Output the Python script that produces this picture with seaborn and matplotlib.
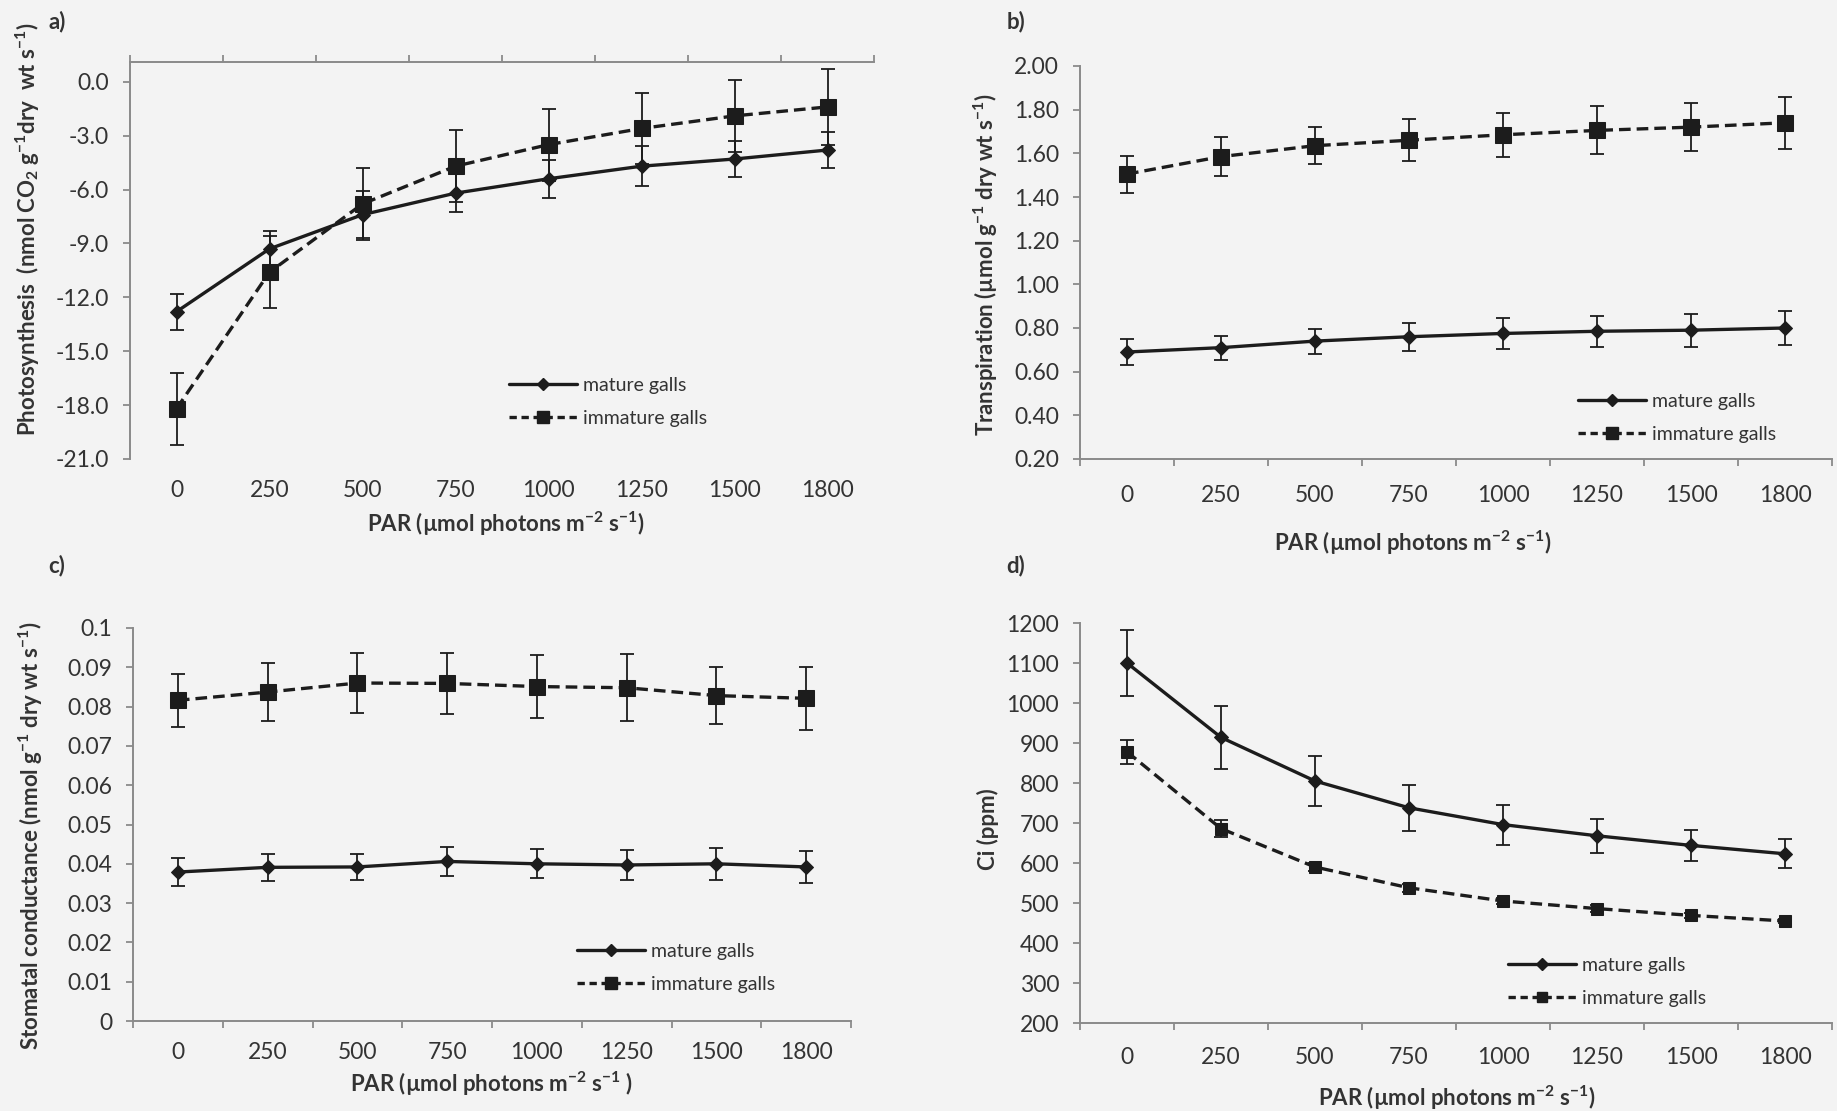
import numpy as np
import pandas as pd
import matplotlib
matplotlib.use("Agg")
import matplotlib.pyplot as plt
from matplotlib.lines import Line2D
import seaborn as sns

# x categories (PAR levels)
par_labels = ["0", "250", "500", "750", "1000", "1250", "1500", "1800"]

# a) photosynthesis
photo_mature = [-12.8, -9.3, -7.4, -6.2, -5.4, -4.7, -4.3, -3.8]
photo_mature_err = [1.0, 1.0, 1.3, 1.05, 1.05, 1.1, 1.0, 1.0]
photo_immature = [-18.2, -10.6, -6.8, -4.7, -3.5, -2.6, -1.9, -1.4]
photo_immature_err = [2.0, 2.0, 2.0, 2.0, 2.0, 2.0, 2.0, 2.1]

# b) transpiration
trans_mature = [0.69, 0.71, 0.74, 0.76, 0.775, 0.785, 0.79, 0.80]
trans_mature_err = [0.06, 0.055, 0.057, 0.065, 0.07, 0.07, 0.075, 0.08]
trans_immature = [1.505, 1.585, 1.635, 1.66, 1.685, 1.705, 1.72, 1.74]
trans_immature_err = [0.085, 0.09, 0.085, 0.095, 0.1, 0.11, 0.11, 0.12]

# c) stomatal conductance
cond_mature = [0.0379, 0.0391, 0.0392, 0.0406, 0.0400, 0.0397, 0.0400, 0.0392]
cond_mature_err = [0.0035, 0.0035, 0.0034, 0.0037, 0.0037, 0.0038, 0.004, 0.004]
cond_immature = [0.0816, 0.0837, 0.0860, 0.0859, 0.0851, 0.0848, 0.0828, 0.0821]
cond_immature_err = [0.0067, 0.0073, 0.0077, 0.0077, 0.008, 0.0085, 0.0073, 0.008]

# d) Ci
ci_mature = [1100, 914, 805, 738, 696, 668, 644, 623]
ci_mature_err = [83, 78, 63, 57, 50, 42, 39, 36]
ci_immature = [878, 686, 590, 538, 505, 486, 469, 455]
ci_immature_err = [30, 22, 10, 10, 8, 8, 6, 6]

W, H = 1837, 1111
BG = "#f3f3f3"
INK = "#1c1c1c"
SPINE = "#8a8a8a"
TXT = "#333333"

sns.set_theme(style="white")
plt.rcParams["font.family"] = ["Lato", "DejaVu Sans"]
plt.rcParams["mathtext.default"] = "regular"

fig = plt.figure(figsize=(W / 100, H / 100), dpi=100, facecolor=BG)


def px_axes(left, right, top, bottom):
    return fig.add_axes([left / W, 1 - bottom / H, (right - left) / W, (bottom - top) / H])


def draw_panel(ax, mature, mature_err, immature, immature_err, yticks, ylabels,
               ylim, top_axis=False, xpad=17, sq_size=10):
    pos = np.arange(len(par_labels))
    df_m = pd.DataFrame({"pos": pos, "value": mature})
    df_i = pd.DataFrame({"pos": pos, "value": immature})
    ax.errorbar(pos, mature, yerr=mature_err, fmt="none", ecolor=INK,
                elinewidth=1.3, capsize=5, capthick=1.3, zorder=2)
    ax.errorbar(pos, immature, yerr=immature_err, fmt="none", ecolor=INK,
                elinewidth=1.3, capsize=5, capthick=1.3, zorder=2)
    sns.lineplot(data=df_m, x="pos", y="value", ax=ax, color=INK, lw=2.4,
                 marker="D", markersize=7.5, markeredgecolor=INK, zorder=3)
    sns.lineplot(data=df_i, x="pos", y="value", ax=ax, color=INK, lw=2.4,
                 linestyle=(0, (3.5, 1.8)), marker="s", markersize=sq_size,
                 markeredgecolor=INK, zorder=3)
    ax.set_facecolor(BG)
    ax.set_xlim(-0.5, len(par_labels) - 0.5)
    ax.set_ylim(*ylim)
    ax.set_xlabel("")
    ax.set_ylabel("")
    ax.set_xticks(pos)
    ax.set_xticklabels(par_labels)
    ax.set_xticks(np.arange(len(par_labels) + 1) - 0.5, minor=True)
    ax.set_yticks(yticks)
    ax.set_yticklabels(ylabels)
    for s in ax.spines.values():
        s.set_visible(False)
    ax.spines["left"].set_visible(True)
    ax.spines["left"].set_color(SPINE)
    ax.spines["left"].set_linewidth(1.4)
    edge = "top" if top_axis else "bottom"
    ax.spines[edge].set_visible(True)
    ax.spines[edge].set_color(SPINE)
    ax.spines[edge].set_linewidth(1.4)
    ax.tick_params(axis="x", which="major", length=0, pad=xpad,
                   labelsize=16.5, labelcolor=TXT, bottom=False, top=False,
                   labelbottom=True)
    ax.tick_params(axis="x", which="minor", length=5, width=1.3, color=SPINE,
                   direction="out", bottom=not top_axis, top=top_axis,
                   labelbottom=False, labeltop=False)
    ax.tick_params(axis="y", which="major", length=5, width=1.3, color=SPINE,
                   direction="out", left=True, pad=10, labelsize=16.5,
                   labelcolor=TXT)
    ax.grid(False)


def add_legend(x, y_mid, sq_size=10):
    handles = [
        Line2D([], [], color=INK, lw=2.4, marker="D", markersize=6),
        Line2D([], [], color=INK, lw=2.4, linestyle=(0, (2.2, 1.4)),
               marker="s", markersize=sq_size * 0.8),
    ]
    fig.legend(handles, ["mature galls", "immature galls"],
               loc="center left", bbox_to_anchor=(x / W, 1 - y_mid / H),
               frameon=False, fontsize=14, handlelength=3.5,
               handletextpad=0.3, labelspacing=0.8, labelcolor=TXT,
               borderpad=0, borderaxespad=0)


# a)
ax_a = px_axes(130, 874, 62, 459)
draw_panel(ax_a, photo_mature, photo_mature_err, photo_immature, photo_immature_err,
           np.arange(-21, 0.1, 3), [f"{v:.1f}" for v in np.arange(-21, 0.1, 3)],
           (-21, 1.1), top_axis=True, xpad=15, sq_size=11)
add_legend(509, 402, 11)

# b)
ax_b = px_axes(1080, 1832, 66, 459)
yt_b = np.round(np.arange(0.2, 2.01, 0.2), 2)
draw_panel(ax_b, trans_mature, trans_mature_err, trans_immature, trans_immature_err,
           yt_b, [f"{v:.2f}" for v in yt_b], (0.2, 2.0), xpad=19, sq_size=11)
add_legend(1578, 418, 11)

# c)
ax_c = px_axes(133, 851, 628, 1021)
yt_c = np.round(np.arange(0, 0.101, 0.01), 2)
draw_panel(ax_c, cond_mature, cond_mature_err, cond_immature, cond_immature_err,
           yt_c, ["0"] + [f"{v:.2f}" for v in yt_c[1:-1]] + ["0.1"], (0, 0.1),
           xpad=15, sq_size=11)
add_legend(577, 968, 11)

# d)
ax_d = px_axes(1080, 1832, 623, 1023)
yt_d = np.arange(200, 1201, 100)
draw_panel(ax_d, ci_mature, ci_mature_err, ci_immature, ci_immature_err,
           yt_d, [str(v) for v in yt_d], (200, 1200), xpad=17, sq_size=8)
add_legend(1508, 982, 9)

# axis titles
xlab = "PAR (\u00b5mol photons m$^{-2}$ s$^{-1}$)"
lab_kw = dict(fontsize=16, fontweight="bold", color=TXT, ha="center", va="center")
fig.text(506 / W, 1 - 524 / H, xlab, **lab_kw)
fig.text(1413 / W, 1 - 543 / H, xlab, **lab_kw)
fig.text(492 / W, 1 - 1084 / H, "PAR (\u00b5mol photons m$^{-2}$ s$^{-1}$ )", **lab_kw)
fig.text(1457 / W, 1 - 1098 / H, xlab, **lab_kw)

fig.text(28 / W, 1 - 229 / H,
         "Photosynthesis  (nmol CO$_2$ g$^{-1}$dry  wt s$^{-1}$)",
         rotation=90, **lab_kw)
fig.text(986 / W, 1 - 265 / H,
         "Transpiration (\u00b5mol g$^{-1}$ dry wt s$^{-1}$)",
         rotation=90, **lab_kw)
fig.text(31 / W, 1 - 836 / H,
         "Stomatal conductance (nmol g$^{-1}$ dry wt s$^{-1}$)",
         rotation=90, **lab_kw)
fig.text(988 / W, 1 - 829 / H, "Ci (ppm)", rotation=90, **lab_kw)

# panel letters
for x, y, t in [(57, 22, "a)"), (1016, 22, "b)"), (57, 566, "c)"), (1016, 566, "d)")]:
    fig.text(x / W, 1 - y / H, t, fontsize=16, fontweight="bold", color=TXT,
             ha="center", va="center")

fig.savefig("out.png", dpi=100, facecolor=BG)
